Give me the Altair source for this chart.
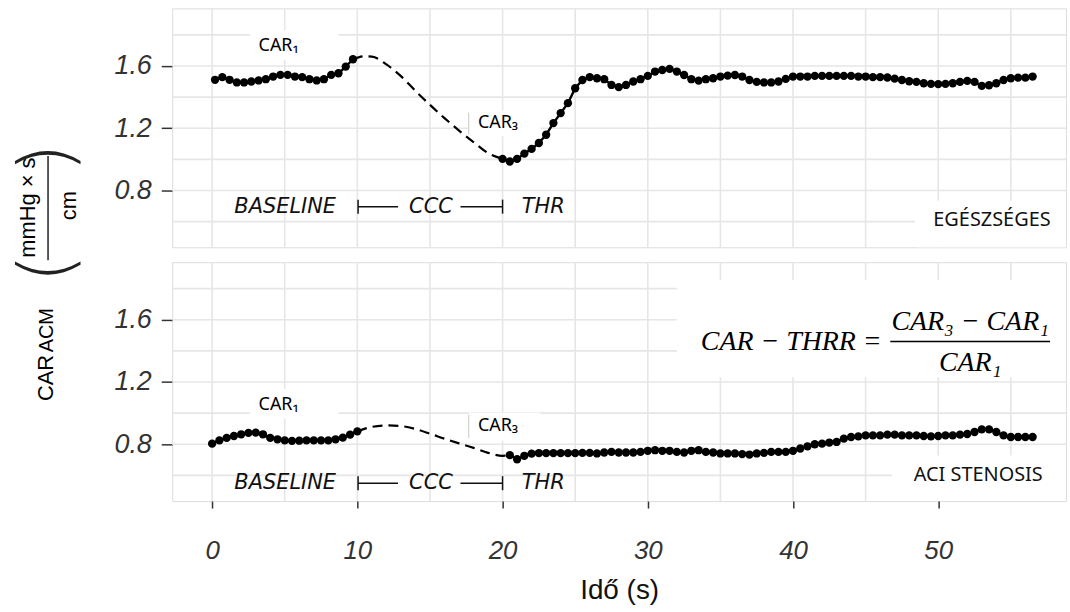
import altair as alt
import pandas as pd

# ---------------- data ----------------
# top panel (EGÉSZSÉGES)
t_base_top = [0.2, 0.7, 1.2, 1.7, 2.2, 2.7, 3.2, 3.7, 4.2, 4.7,
              5.2, 5.7, 6.2, 6.7, 7.2, 7.7, 8.2, 8.7, 9.2, 9.7]
v_base_top = [1.511, 1.528, 1.511, 1.494, 1.494, 1.500, 1.507, 1.515, 1.532, 1.543,
              1.543, 1.532, 1.528, 1.515, 1.507, 1.515, 1.543, 1.553, 1.596, 1.643]

t_dash_top = [9.7, 10.5, 11.0, 12.0, 13.0, 14.0, 15.0, 16.0, 17.0, 18.0, 19.0, 20.0]
v_dash_top = [1.643, 1.662, 1.660, 1.610, 1.535, 1.440, 1.350, 1.265, 1.185, 1.111, 1.040, 1.003]

t_after_top = [20.0, 20.5, 21.0, 21.5, 22.0, 22.5, 23.0, 23.5, 24.0, 24.5,
               25.0, 25.5, 26.0, 26.5, 27.0, 27.5, 28.0, 28.5, 29.0, 29.5,
               30.0, 30.5, 31.0, 31.5, 32.0, 32.5, 33.0, 33.5, 34.0, 34.5,
               35.0, 35.5, 36.0, 36.5, 37.0, 37.5, 38.0, 38.5, 39.0, 39.5,
               40.0, 40.5, 41.0, 41.5, 42.0, 42.5, 43.0, 43.5, 44.0, 44.5,
               45.0, 45.5, 46.0, 46.5, 47.0, 47.5, 48.0, 48.5, 49.0, 49.5,
               50.0, 50.5, 51.0, 51.5, 52.0, 52.5, 53.0, 53.5, 54.0, 54.5,
               55.0, 55.5, 56.0, 56.5]
v_after_top = [1.003, 0.986, 1.003, 1.037, 1.067, 1.105, 1.158, 1.233, 1.297, 1.361,
               1.457, 1.510, 1.528, 1.521, 1.515, 1.478, 1.464, 1.478, 1.500, 1.515,
               1.536, 1.564, 1.574, 1.581, 1.564, 1.542, 1.515, 1.506, 1.515, 1.521,
               1.532, 1.538, 1.542, 1.532, 1.510, 1.498, 1.494, 1.494, 1.500, 1.517,
               1.532, 1.532, 1.532, 1.536, 1.536, 1.536, 1.536, 1.536, 1.536, 1.532,
               1.532, 1.528, 1.528, 1.526, 1.519, 1.510, 1.502, 1.498, 1.489, 1.485,
               1.483, 1.485, 1.489, 1.498, 1.504, 1.498, 1.472, 1.476, 1.489, 1.510,
               1.521, 1.525, 1.525, 1.532]

# bottom panel (ACI STENOSIS)
t_base_bot = [0.0, 0.5, 1.0, 1.5, 2.0, 2.5, 3.0, 3.5, 4.0, 4.5, 5.0,
              5.5, 6.0, 6.5, 7.0, 7.5, 8.0, 8.5, 9.0, 9.5, 10.0]
v_base_bot = [0.804, 0.825, 0.841, 0.853, 0.864, 0.873, 0.875, 0.864, 0.841, 0.832, 0.825,
              0.822, 0.823, 0.825, 0.825, 0.825, 0.825, 0.832, 0.843, 0.862, 0.883]

t_dash_bot = [10.0, 11.0, 12.0, 13.0, 14.0, 15.0, 16.0, 17.0, 18.0, 19.0, 20.0, 20.5]
v_dash_bot = [0.883, 0.912, 0.921, 0.917, 0.898, 0.868, 0.836, 0.806, 0.777, 0.745, 0.726, 0.730]

t_after_bot = [20.5, 21.0, 21.5, 22.0, 22.5, 23.0, 23.5, 24.0, 24.5,
               25.0, 25.5, 26.0, 26.5, 27.0, 27.5, 28.0, 28.5, 29.0, 29.5,
               30.0, 30.5, 31.0, 31.5, 32.0, 32.5, 33.0, 33.5, 34.0, 34.5,
               35.0, 35.5, 36.0, 36.5, 37.0, 37.5, 38.0, 38.5, 39.0, 39.5,
               40.0, 40.5, 41.0, 41.5, 42.0, 42.5, 43.0, 43.5, 44.0, 44.5,
               45.0, 45.5, 46.0, 46.5, 47.0, 47.5, 48.0, 48.5, 49.0, 49.5,
               50.0, 50.5, 51.0, 51.5, 52.0, 52.5, 53.0, 53.5, 54.0, 54.5,
               55.0, 55.5, 56.0, 56.5]
v_after_bot = [0.730, 0.704, 0.726, 0.740, 0.743, 0.743, 0.743, 0.743, 0.743,
               0.743, 0.745, 0.745, 0.741, 0.747, 0.751, 0.747, 0.747, 0.747, 0.751,
               0.758, 0.762, 0.758, 0.758, 0.751, 0.747, 0.758, 0.762, 0.751, 0.747,
               0.741, 0.741, 0.741, 0.737, 0.734, 0.741, 0.745, 0.751, 0.751, 0.751,
               0.758, 0.773, 0.787, 0.800, 0.804, 0.811, 0.815, 0.836, 0.847, 0.851,
               0.857, 0.857, 0.857, 0.862, 0.862, 0.857, 0.857, 0.857, 0.853, 0.851,
               0.853, 0.857, 0.857, 0.862, 0.866, 0.879, 0.896, 0.896, 0.879, 0.857,
               0.847, 0.847, 0.847, 0.847]

# axes / grid
x_ticks = [0, 10, 20, 30, 40, 50]
x_grid = [0, 5, 10, 15, 20, 25, 30, 35, 40, 45, 50, 55]
y_ticks = [0.8, 1.2, 1.6]
y_grid = [0.6, 0.8, 1.0, 1.2, 1.4, 1.6, 1.8]
X_DOMAIN = [-2.75, 58.8]
Y_DOMAIN = [0.435, 1.97]

# annotations (positions in data units of each panel)
panel_labels = {"top": "EGÉSZSÉGES", "bot": "ACI STENOSIS"}
label_pos = {"top": (57.74, 0.607), "bot": (57.2, 0.601)}
label_box = {"top": (48.4, 58.8, 0.734, 0.435), "bot": (46.8, 58.8, 0.728, 0.435)}
car1_pos = {"top": (3.2, 1.728), "bot": (3.2, 1.053)}
car1_box = {"top": (2.6, 8.7, 1.830, 1.639), "bot": (2.6, 8.7, 1.155, 0.964)}
car3_pos = {"top": (18.3, 1.231), "bot": (18.3, 0.919)}
car3_box = {"top": (17.67, 22.6, 1.314, 1.148), "bot": (17.67, 22.6, 1.002, 0.823)}
car3_edge = {"top": (17.67, 1.300, 1.160), "bot": (17.67, 0.990, 0.840)}
phase_text = ["BASELINE", "CCC", "THR"]
phase_x = [5.03, 15.07, 22.8]
phase_y = {"top": 0.696, "bot": 0.550}
bracket_h = [(10.05, 12.8), (17.1, 20.0)]
bracket_v = [10.05, 20.0]
bracket_half = 0.045

formula_lhs = "CAR − THRR ="
formula_num = "CAR₃ − CAR₁"
formula_den = "CAR₁"
formula_box = (32.0, 58.8, 1.855, 1.231)

GRID = "#e6e6e6"
FG = "#000000"

XS = alt.Scale(domain=X_DOMAIN, nice=False, zero=False)
YS = alt.Scale(domain=Y_DOMAIN, nice=False, zero=False)

y_axis = alt.Axis(values=y_ticks, format=".1f", title=None, grid=False, domain=False,
                  labelFont="Liberation Sans", labelFontStyle="italic", labelFontSize=27,
                  labelColor="#333333", tickColor="#333333", tickSize=11, tickWidth=1.5,
                  labelPadding=10)
x_axis_bot = alt.Axis(values=x_ticks, format="d", title="Idő (s)", grid=False, domain=False,
                      labelFont="Liberation Sans", labelFontStyle="italic", labelFontSize=26,
                      labelColor="#333333", tickColor="#333333", tickSize=7, tickWidth=1.5,
                      labelPadding=30, titleFont="Liberation Sans", titleFontSize=28,
                      titleFontWeight="normal", titleColor="#111111", titlePadding=13)


def build_panel(key, t_base, v_base, t_dash, v_dash, t_after, v_after, xaxis, extra=None):
    def X(f):
        return alt.X(f"{f}:Q", scale=XS, axis=xaxis)

    def Y(f):
        return alt.Y(f"{f}:Q", scale=YS, axis=y_axis)

    layers = []
    layers.append(alt.Chart(pd.DataFrame({"gx": x_grid})).mark_rule(color=GRID, strokeWidth=1.6)
                  .encode(x=X("gx")))
    layers.append(alt.Chart(pd.DataFrame({"gy": y_grid})).mark_rule(color=GRID, strokeWidth=1.6)
                  .encode(y=Y("gy")))

    boxes = [car1_box[key], car3_box[key], label_box[key]]
    if key == "bot":
        boxes.append(formula_box)
    bdf = pd.DataFrame(boxes, columns=["x1", "x2", "y1", "y2"])
    layers.append(alt.Chart(bdf).mark_rect(fill="white")
                  .encode(x=X("x1"), x2=alt.X2("x2"), y=Y("y1"), y2=alt.Y2("y2")))

    # little frame edge left of CAR3
    e = car3_edge[key]
    layers.append(alt.Chart(pd.DataFrame({"x": [e[0]], "y1": [e[1]], "y2": [e[2]]}))
                  .mark_rule(color="#c8c8c8", strokeWidth=1)
                  .encode(x=X("x"), y=Y("y1"), y2=alt.Y2("y2")))

    # dashed occlusion curve
    layers.append(alt.Chart(pd.DataFrame({"t": t_dash, "v": v_dash}))
                  .mark_line(color=FG, strokeWidth=2.2, strokeDash=[10, 6], interpolate="monotone")
                  .encode(x=X("t"), y=Y("v")))

    pts = pd.DataFrame({"t": t_base + t_after, "v": v_base + v_after,
                        "seg": ["base"] * len(t_base) + ["after"] * len(t_after)})
    layers.append(alt.Chart(pts).mark_line(color=FG, strokeWidth=2.4)
                  .encode(x=X("t"), y=Y("v"), detail="seg:N"))
    layers.append(alt.Chart(pts).mark_circle(color=FG, size=70, opacity=1)
                  .encode(x=X("t"), y=Y("v")))

    # CAR1 / CAR3 labels
    cdf = pd.DataFrame({"x": [car1_pos[key][0], car3_pos[key][0]],
                        "y": [car1_pos[key][1], car3_pos[key][1]],
                        "s": ["CAR₁", "CAR₃"]})
    layers.append(alt.Chart(cdf).mark_text(align="left", baseline="middle", font="Noto Sans",
                                           fontSize=18, color=FG)
                  .encode(x=X("x"), y=Y("y"), text="s:N"))

    # phase labels
    pdf = pd.DataFrame({"x": phase_x, "y": [phase_y[key]] * 3, "s": phase_text})
    layers.append(alt.Chart(pdf).mark_text(align="center", baseline="middle", font="DejaVu Sans",
                                           fontStyle="italic", fontSize=21, color="#111111")
                  .encode(x=X("x"), y=Y("y"), text="s:N"))
    hdf = pd.DataFrame({"x1": [b[0] for b in bracket_h], "x2": [b[1] for b in bracket_h],
                        "y": [phase_y[key]] * 2})
    layers.append(alt.Chart(hdf).mark_rule(color="#111111", strokeWidth=1.5)
                  .encode(x=X("x1"), x2=alt.X2("x2"), y=Y("y")))
    vdf = pd.DataFrame({"x": bracket_v, "y1": [phase_y[key] + bracket_half] * 2,
                        "y2": [phase_y[key] - bracket_half] * 2})
    layers.append(alt.Chart(vdf).mark_rule(color="#111111", strokeWidth=1.5)
                  .encode(x=X("x"), y=Y("y1"), y2=alt.Y2("y2")))

    # panel label
    ldf = pd.DataFrame({"x": [label_pos[key][0]], "y": [label_pos[key][1]], "s": [panel_labels[key]]})
    layers.append(alt.Chart(ldf).mark_text(align="right", baseline="middle", font="Noto Sans",
                                           fontSize=20, color="#111111")
                  .encode(x=X("x"), y=Y("y"), text="s:N"))

    if extra:
        layers += extra(X, Y)
    return alt.layer(*layers).properties(width=898, height=240)


def formula_layers(X, Y):
    out = []
    out.append(alt.Chart(pd.DataFrame({"x": [46.1], "y": [1.460], "s": [formula_lhs]}))
               .mark_text(align="right", baseline="middle", font="Liberation Serif",
                          fontStyle="italic", fontSize=28, color=FG)
               .encode(x=X("x"), y=Y("y"), text="s:N"))
    out.append(alt.Chart(pd.DataFrame({"x": [52.2, 52.2], "y": [1.588, 1.320],
                                       "s": [formula_num, formula_den]}))
               .mark_text(align="center", baseline="middle", font="Liberation Serif",
                          fontStyle="italic", fontSize=28, color=FG)
               .encode(x=X("x"), y=Y("y"), text="s:N"))
    out.append(alt.Chart(pd.DataFrame({"x1": [46.7], "x2": [57.7], "y": [1.460]}))
               .mark_rule(color=FG, strokeWidth=1.5)
               .encode(x=X("x1"), x2=alt.X2("x2"), y=Y("y")))
    return out


def ytitle_layers(X, Y):
    out = []
    out.append(alt.Chart(pd.DataFrame({"x": [-12.67, -9.86], "y": [0.690, 0.703],
                                       "s": ["mmHg × s", "cm"]}))
               .mark_text(angle=270, align="center", baseline="middle", font="Liberation Sans",
                          fontSize=22, color=FG)
               .encode(x=X("x"), y=Y("y"), text="s:N"))
    out.append(alt.Chart(pd.DataFrame({"x": [-11.30], "y1": [1.021], "y2": [0.352]}))
               .mark_rule(color=FG, strokeWidth=1.3)
               .encode(x=X("x"), y=Y("y1"), y2=alt.Y2("y2")))
    out.append(alt.Chart(pd.DataFrame({"x": [-11.23, -11.23], "y": [1.010, 0.300], "s": [")", "("]}))
               .mark_text(angle=270, align="center", baseline="middle", font="DejaVu Sans",
                          fontWeight=200, fontSize=74, color="#222222")
               .encode(x=X("x"), y=Y("y"), text="s:N"))
    out.append(alt.Chart(pd.DataFrame({"x": [-10.96], "y": [-0.405], "s": ["CAR"]}))
               .mark_text(angle=270, align="center", baseline="alphabetic", font="Liberation Sans",
                          fontSize=22, color=FG)
               .encode(x=X("x"), y=Y("y"), text="s:N"))
    out.append(alt.Chart(pd.DataFrame({"x": [-10.96], "y": [-0.098], "s": ["ACM"]}))
               .mark_text(angle=270, align="center", baseline="alphabetic", font="Liberation Sans",
                          fontSize=20, color=FG)
               .encode(x=X("x"), y=Y("y"), text="s:N"))
    return out


top = build_panel("top", t_base_top, v_base_top, t_dash_top, v_dash_top, t_after_top, v_after_top,
                  None, extra=ytitle_layers)
bot = build_panel("bot", t_base_bot, v_base_bot, t_dash_bot, v_dash_bot, t_after_bot, v_after_bot,
                  x_axis_bot, extra=formula_layers)

chart = (alt.vconcat(top, bot, spacing=15, bounds="flush")
         .properties(padding={"left": 11, "top": 5, "right": 2, "bottom": 2})
         .configure_view(stroke="#6e6e6e", strokeWidth=1.5)
         .configure(background="white"))

chart.save("out.html", embed_options={"renderer": "svg", "actions": False})
